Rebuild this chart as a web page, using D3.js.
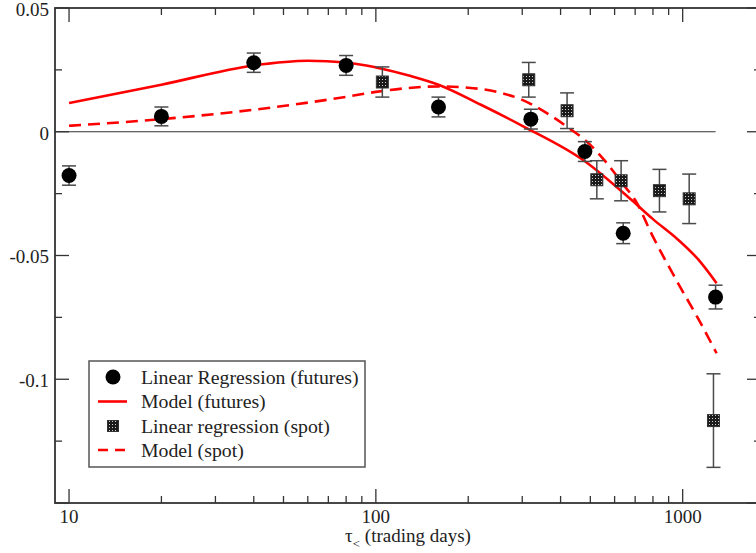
<!DOCTYPE html>
<html><head><meta charset="utf-8">
<script src="https://cdn.jsdelivr.net/npm/d3@7"></script>
<style>body{margin:0;background:#fff;} svg{display:block;} text{font-family:"Liberation Serif","DejaVu Serif",serif;fill:#222;}</style>
</head><body>
<svg id="c" width="756" height="553"></svg>
<script>
// ---- data ----
const futX   = [10, 20, 40, 80, 160, 320, 480, 640, 1280];
const futY   = [-0.0177, 0.0062, 0.0279, 0.0268, 0.0100, 0.0051, -0.0080, -0.0410, -0.0668];
const futErr = [0.0039, 0.0038, 0.0039, 0.0040, 0.0040, 0.0040, 0.0040, 0.0042, 0.0048];

const spotX   = [105, 315, 420, 525, 630, 840, 1050, 1260];
const spotY   = [0.0201, 0.0210, 0.0085, -0.0194, -0.0198, -0.0238, -0.0271, -0.1167];
const spotErr = [0.0061, 0.0070, 0.0072, 0.0077, 0.0081, 0.0086, 0.0100, 0.0189];

const modelFutX = [10, 20, 40, 60, 80, 100, 130, 160, 220, 300, 480, 680, 800, 960, 1120, 1290];
const modelFutY = [0.0116, 0.0190, 0.0268, 0.0287, 0.0280, 0.0260, 0.0225, 0.0190, 0.0109, 0.0024, -0.0119, -0.0275, -0.0353, -0.0433, -0.0514, -0.0612];

const modelSpotX = [10, 20, 40, 80, 100, 160, 200, 250, 300, 350, 420, 500, 560, 640, 700, 800, 960, 1120, 1290];
const modelSpotY = [0.0024, 0.0051, 0.0089, 0.0141, 0.0161, 0.0183, 0.0178, 0.0160, 0.0129, 0.0085, 0.0020, -0.0053, -0.0120, -0.0213, -0.0276, -0.0424, -0.0606, -0.0752, -0.0895];

const zeroLineX = [9, 1280];

const yMajorTicks = [-0.15, -0.1, -0.05, 0, 0.05];
const yTickLabels = ["", "-0.1", "-0.05", "0", "0.05"];
const yMinorTicks = [-0.125, -0.075, -0.025, 0.025];
const xMajorTicks = [10, 100, 1000];
const xTickLabels = ["10", "100", "1000"];
const xMinorTicks = [20,30,40,50,60,70,80,90,200,300,400,500,600,700,800,900];

const legendItems = ["Linear Regression (futures)", "Model (futures)", "Linear regression (spot)", "Model (spot)"];

// ---- layout ----
const L = 55, R = 761, T = 8, B = 503;
const x = d3.scaleLog().domain([9, 1800]).range([L, R]);
const y = d3.scaleLinear().domain([-0.15, 0.05]).range([B, T]);

const svg = d3.select("#c");
const defs = svg.append("defs");
const pat = defs.append("pattern").attr("id","dots").attr("patternUnits","userSpaceOnUse")
  .attr("width",3).attr("height",3);
pat.append("rect").attr("width",3).attr("height",3).attr("fill","#1a1a1a");
pat.append("rect").attr("x",1).attr("y",1).attr("width",1).attr("height",1).attr("fill","#d0d0d0");

const axisColor = "#333";
// frame
svg.append("rect").attr("x",L).attr("y",T).attr("width",R-L).attr("height",B-T)
  .attr("fill","none").attr("stroke",axisColor).attr("stroke-width",1.8);

// ticks
const tg = svg.append("g").attr("stroke",axisColor).attr("stroke-width",1.3);
function xt(v, len){
  tg.append("line").attr("x1",x(v)).attr("x2",x(v)).attr("y1",B).attr("y2",B-len);
  tg.append("line").attr("x1",x(v)).attr("x2",x(v)).attr("y1",T).attr("y2",T+len);
}
function yt(v, len){
  tg.append("line").attr("x1",L).attr("x2",L+len).attr("y1",y(v)).attr("y2",y(v));
  tg.append("line").attr("x1",R).attr("x2",R-len).attr("y1",y(v)).attr("y2",y(v));
}
xMajorTicks.forEach(v=>xt(v,14));
xMinorTicks.forEach(v=>xt(v,7));
yMajorTicks.forEach(v=>yt(v,14));
yMinorTicks.forEach(v=>yt(v,7));

// tick labels
xMajorTicks.forEach((v,i)=>{
  svg.append("text").attr("x",x(v)).attr("y",523).attr("text-anchor","middle")
    .attr("font-size",19).text(xTickLabels[i]);
});
yMajorTicks.forEach((v,i)=>{
  if(!yTickLabels[i]) return;
  svg.append("text").attr("x",49).attr("y",y(v)).attr("dy","0.42em").attr("text-anchor","end")
    .attr("font-size",19).text(yTickLabels[i]);
});

// axis title
const title = svg.append("text").attr("x",(L+R)/2).attr("y",542).attr("text-anchor","middle").attr("font-size",19);
title.append("tspan").text("\u03c4");
title.append("tspan").attr("font-size",13).attr("dy",6).text("<");
title.append("tspan").attr("dy",-6).text(" (trading days)");

// zero line
svg.append("line").attr("x1",x(zeroLineX[0])).attr("x2",x(zeroLineX[1]))
  .attr("y1",y(0)).attr("y2",y(0)).attr("stroke","#333").attr("stroke-width",1.2);

// model lines
const line = d3.line().x(d=>x(d[0])).y(d=>y(d[1])).curve(d3.curveMonotoneX);
svg.append("path").attr("d", line(modelFutX.map((v,i)=>[v, modelFutY[i]])))
  .attr("fill","none").attr("stroke","#ff0000").attr("stroke-width",2.6);
svg.append("path").attr("d", line(modelSpotX.map((v,i)=>[v, modelSpotY[i]])))
  .attr("fill","none").attr("stroke","#ff0000").attr("stroke-width",2.6).attr("stroke-dasharray","12,7");

// error bars
function errBars(xs, ys, es){
  const g = svg.append("g").attr("stroke","#4a4a4a").attr("stroke-width",1.5);
  xs.forEach((v,i)=>{
    const cx = x(v), y1 = y(ys[i]+es[i]), y2 = y(ys[i]-es[i]);
    g.append("line").attr("x1",cx).attr("x2",cx).attr("y1",y1).attr("y2",y2);
    g.append("line").attr("x1",cx-7).attr("x2",cx+7).attr("y1",y1).attr("y2",y1);
    g.append("line").attr("x1",cx-7).attr("x2",cx+7).attr("y1",y2).attr("y2",y2);
  });
}
errBars(futX, futY, futErr);
errBars(spotX, spotY, spotErr);

// markers
svg.append("g").selectAll("circle").data(futX).join("circle")
  .attr("cx",d=>x(d)).attr("cy",(d,i)=>y(futY[i])).attr("r",7.5).attr("fill","#000");
svg.append("g").selectAll("rect").data(spotX).join("rect")
  .attr("x",d=>x(d)-6).attr("y",(d,i)=>y(spotY[i])-6).attr("width",12).attr("height",12)
  .attr("fill","url(#dots)").attr("stroke","#333").attr("stroke-width",1);

// legend
const lg = svg.append("g");
lg.append("rect").attr("x",89).attr("y",361).attr("width",276).attr("height",106)
  .attr("fill","#fff").attr("stroke","#555").attr("stroke-width",1.5);
const rows = [377, 401.5, 426, 450];
lg.append("circle").attr("cx",113).attr("cy",rows[0]).attr("r",7.5).attr("fill","#000");
lg.append("line").attr("x1",98).attr("x2",127).attr("y1",rows[1]).attr("y2",rows[1])
  .attr("stroke","#ff0000").attr("stroke-width",2.6);
lg.append("rect").attr("x",107.5).attr("y",rows[2]-5.5).attr("width",11).attr("height",11)
  .attr("fill","url(#dots)").attr("stroke","#333").attr("stroke-width",1);
lg.append("line").attr("x1",98).attr("x2",127).attr("y1",rows[3]).attr("y2",rows[3])
  .attr("stroke","#ff0000").attr("stroke-width",2.6).attr("stroke-dasharray","10,7");
legendItems.forEach((t,i)=>{
  lg.append("text").attr("x",141).attr("y",rows[i]).attr("dy","0.33em").attr("font-size",19.8).text(t);
});
</script>
</body></html>
